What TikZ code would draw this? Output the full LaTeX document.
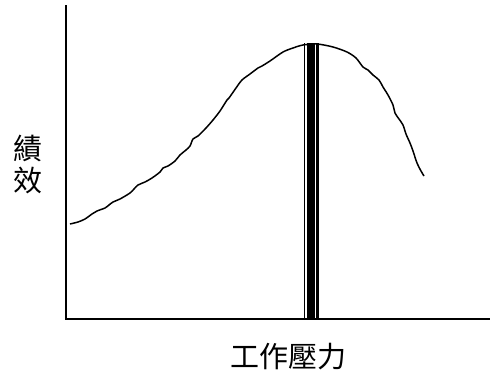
\documentclass[tikz,border=0pt]{standalone}
\usepackage{fontspec}
\newfontfamily\cjk{Noto Sans CJK TC}
\usetikzlibrary{calc}

\begin{document}
\begin{tikzpicture}[x=1pt,y=-1pt,inner sep=0pt,outer sep=0pt,
    axis/.style={line width=2pt},
    curve/.style={line width=1.5pt,line join=round},
    every node/.style={font=\cjk\fontsize{29}{32}\selectfont}]
    \useasboundingbox (0,0) rectangle (490,378);

    % axes
    \coordinate (origin) at (66,319);
    \coordinate (ytop) at (66,5);
    \coordinate (xend) at (490,319);
    \draw[axis] (ytop) -- (origin) -- (xend);

    % performance curve
    \draw[curve] plot[smooth,tension=0.5] coordinates {
        (70,224) (78,222) (85,219) (92,214) (97,211) (105,208)
        (109,205) (113,202) (120,199) (130,193) (134,189) (138,185)
        (145,182) (152,178) (160,172) (163,168) (168,166) (175,161)
        (180,155) (186,150) (190,146) (193,139) (198,136) (206,128)
        (213,120) (220,111) (227,100) (229,98) (236,88) (242,80)
        (250,74) (258,68) (262,66) (270,61) (283,52) (293,48)
        (303,45) (317,44) (333,47) (347,52) (356,58) (363,67)
        (368,70) (373,75) (379,80) (383,87) (388,95) (393,105)
        (395,113) (399,119) (403,125) (406,134) (410,143) (413,151)
        (417,163) (421,171) (424,176)};

    % optimum band
    \coordinate (b1) at (304.6,43);
    \coordinate (b2) at (310,43);
    \coordinate (b3) at (314.2,43);
    \coordinate (b4) at (317.6,43);
    \draw[line width=1.2pt] (b1) -- ($(b1 |- origin)+(0,1)$);
    \draw[line width=5.6pt] (b2) -- ($(b2 |- origin)+(0,1)$);
    \draw[line width=2.2pt] (b3) -- ($(b3 |- origin)+(0,1)$);
    \draw[line width=3.6pt] (b4) -- ($(b4 |- origin)+(0,1)$);

    % labels
    \node[anchor=center] (perf) at (28,168)
    {\begin{tabular}{@{}c@{}}績\\[-2pt]效\end{tabular}};
    \node[anchor=center] (stress) at (288,357) {工作壓力};
\end{tikzpicture}
\end{document}
